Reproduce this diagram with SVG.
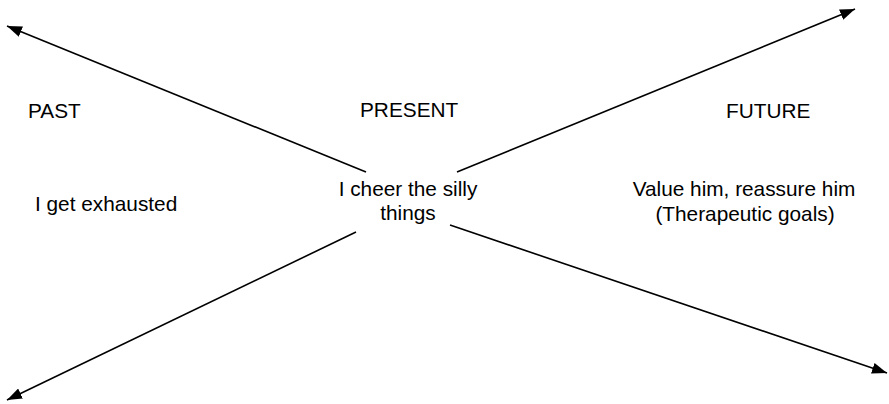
<svg xmlns="http://www.w3.org/2000/svg" width="889" height="404" viewBox="0 0 889 404">
<style>
text{font-family:"Liberation Sans",Arial,sans-serif;font-size:20.8px;fill:#000}
.c{text-anchor:middle}
line{stroke:#000;stroke-width:1.6}
</style>
<defs>
<marker id="ah" viewBox="0 0 15 11" refX="15" refY="5.5" markerWidth="15" markerHeight="11" markerUnits="userSpaceOnUse" orient="auto">
<path d="M0,0L15,5.5L0,11z" fill="#000"/>
</marker>
</defs>
<rect width="889" height="404" fill="#fff"/>
<g id="connectors">
<line x1="366" y1="172" x2="7" y2="26" marker-end="url(#ah)"/>
<line x1="457" y1="172" x2="855" y2="9" marker-end="url(#ah)"/>
<line x1="356" y1="232" x2="7" y2="400" marker-end="url(#ah)"/>
<line x1="450" y1="225" x2="887" y2="373" marker-end="url(#ah)"/>
</g>
<g id="past"><text x="28" y="118">PAST</text></g>
<g id="present"><text x="360" y="117">PRESENT</text></g>
<g id="future"><text x="726" y="118">FUTURE</text></g>
<g id="past-text"><text x="35" y="211">I get exhausted</text></g>
<g id="present-text"><text class="c" x="408" y="196">I cheer the silly</text><text class="c" x="408" y="220">things</text></g>
<g id="future-text"><text class="c" x="744" y="196">Value him, reassure him</text><text class="c" x="745" y="221">(Therapeutic goals)</text></g>
</svg>
